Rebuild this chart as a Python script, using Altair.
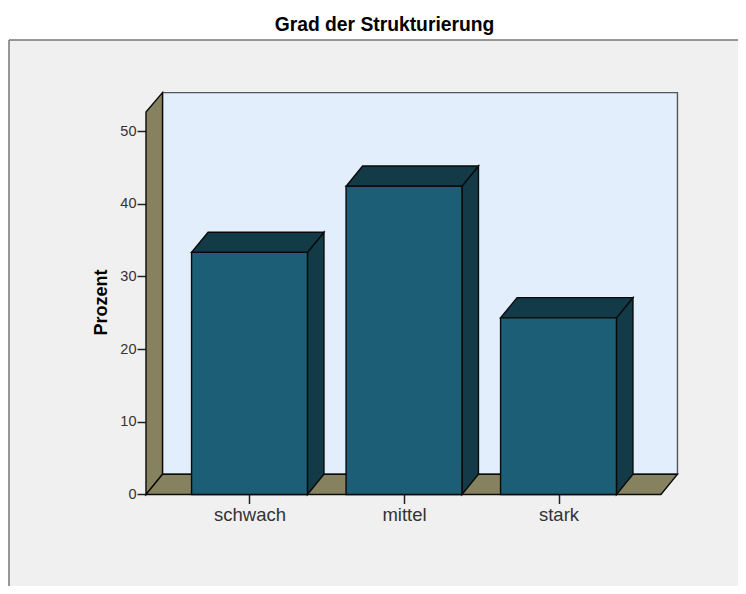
import altair as alt
import pandas as pd

categories = ["schwach", "mittel", "stark"]
percent = [33.3, 42.4, 24.3]
y_ticks = [0, 10, 20, 30, 40, 50]

# geometry of the pseudo-3D box, in data units
half = 0.375      # half a bar width
dx = 0.107        # depth, x units
dy = 2.78         # depth, percent units
floor_l, floor_r = -0.67, 2.663
ceil_front, ceil_back = 52.6, 55.28

X_DOM = [-1.5566, 3.1618]
Y_DOM = [-12.59, 62.52]
xs = alt.Scale(domain=X_DOM, nice=False, zero=False)
ys = alt.Scale(domain=Y_DOM, nice=False, zero=False)

EDGE = "#0a0a0a"
FRONT = "#1b5e75"
DARK = "#123a47"
OLIVE = "#86825f"
WALL = "#e2eefb"
SW = 1.4

x_axis = alt.Axis(
    values=[0, 1, 2], offset=-91.5, domain=False, grid=False, title=None,
    labelExpr="['schwach','mittel','stark'][datum.value]",
    labelFont="Liberation Sans", labelFontSize=18.5, labelColor="#333333",
    labelPadding=2, tickSize=9, tickColor="#222222", tickWidth=1.5,
    labelFlush=False, labelOverlap=False)
y_axis = alt.Axis(
    values=y_ticks, offset=-137, domain=False, grid=False, title="Prozent",
    titleFont="Liberation Sans", titleFontSize=18, titleFontWeight="bold",
    titleColor="#000000", titleX=-36, titleY=262,
    labelFont="Liberation Sans", labelFontSize=14.5, labelColor="#333333",
    labelPadding=1, tickSize=9, tickColor="#222222", tickWidth=1.5,
    format="d")

x_enc = alt.X("x:Q", scale=xs, axis=x_axis)
y_enc = alt.Y("y:Q", scale=ys, axis=y_axis)

# panel frame: only the top and left edges are visible in the reference
frame_top = alt.Chart(pd.DataFrame([{"x": X_DOM[0], "x2": X_DOM[1], "y": Y_DOM[1]}])).mark_rule(
    color="#777777", strokeWidth=1.5).encode(x=x_enc, x2="x2:Q", y=y_enc)
frame_left = alt.Chart(pd.DataFrame([{"x": X_DOM[0], "y": Y_DOM[0], "y2": Y_DOM[1]}])).mark_rule(
    color="#777777", strokeWidth=1.5).encode(x=x_enc, y=y_enc, y2="y2:Q")

# back wall
wall = alt.Chart(pd.DataFrame([{
    "x": floor_l + dx, "x2": floor_r + dx, "y": dy, "y2": ceil_back}])).mark_rect(
    fill=WALL, stroke="#555555", strokeWidth=1.4).encode(
    x=x_enc, x2="x2:Q", y=y_enc, y2="y2:Q")

# left wall
left = alt.Chart(pd.DataFrame([
    {"x": floor_l, "y": 0, "y2": ceil_front},
    {"x": floor_l + dx, "y": dy, "y2": ceil_back},
])).mark_area(fill=OLIVE, stroke=EDGE, strokeWidth=SW).encode(x=x_enc, y=y_enc, y2="y2:Q")

# floor
floor = alt.Chart(pd.DataFrame([
    {"x": floor_l, "x2": floor_r, "y": 0},
    {"x": floor_l + dx, "x2": floor_r + dx, "y": dy},
])).mark_area(orient="horizontal", fill=OLIVE, stroke=EDGE, strokeWidth=SW).encode(
    x=x_enc, x2="x2:Q", y=y_enc)

side_rows, top_rows, front_rows = [], [], []
for i, (c, v) in enumerate(zip(categories, percent)):
    side_rows += [
        {"c": c, "x": i + half, "y": 0, "y2": v},
        {"c": c, "x": i + half + dx, "y": dy, "y2": v + dy},
    ]
    top_rows += [
        {"c": c, "x": i - half, "x2": i + half, "y": v},
        {"c": c, "x": i - half + dx, "x2": i + half + dx, "y": v + dy},
    ]
    front_rows.append({"c": c, "x": i - half, "x2": i + half, "y": 0, "y2": v})

side = alt.Chart(pd.DataFrame(side_rows)).mark_area(
    fill=DARK, stroke=EDGE, strokeWidth=SW).encode(
    x=x_enc, y=y_enc, y2="y2:Q", detail="c:N")
top = alt.Chart(pd.DataFrame(top_rows)).mark_area(
    orient="horizontal", fill=DARK, stroke=EDGE, strokeWidth=SW).encode(
    x=x_enc, x2="x2:Q", y=y_enc, detail="c:N")
front = alt.Chart(pd.DataFrame(front_rows)).mark_rect(
    fill=FRONT, stroke=EDGE, strokeWidth=SW).encode(
    x=x_enc, x2="x2:Q", y=y_enc, y2="y2:Q")

chart = (frame_top + frame_left + wall + left + floor + side + top + front).properties(
    width=729, height=546,
    padding={"left": 1, "top": 32, "right": 0, "bottom": 0},
    autosize=alt.AutoSizeParams(type="none"),
    background="#ffffff",
    title=alt.TitleParams(
        "Grad der Strukturierung", font="Liberation Sans", fontSize=19.3,
        fontWeight="bold", color="#000000", anchor="middle", dx=11, offset=4),
).configure_view(fill="#f0f0f0", stroke=None)

chart.save("out.html", embed_options={"renderer": "svg", "actions": False})
